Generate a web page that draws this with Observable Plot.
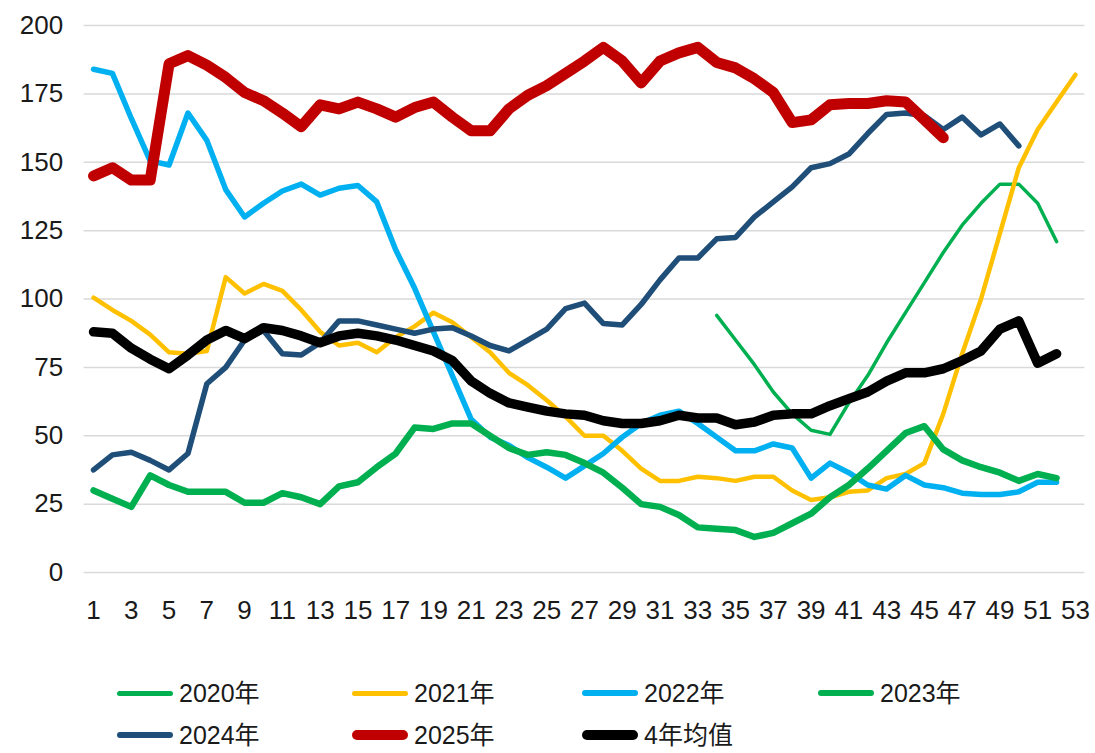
<!DOCTYPE html>
<html><head><meta charset="utf-8">
<script src="https://cdn.jsdelivr.net/npm/d3@7"></script>
<script src="https://cdn.jsdelivr.net/npm/@observablehq/plot@0.6"></script>
<style>
body{margin:0;background:#fff;font-family:"Liberation Sans",Arial,"Noto Sans CJK SC",sans-serif;}
#wrap{position:relative;width:1095px;height:753px;overflow:hidden;}
#chart{position:absolute;left:0;top:0;}
.leg{position:absolute;display:flex;align-items:center;font-size:25px;line-height:30px;color:#1a1a1a;height:30px;white-space:nowrap;}
.sw{width:56px;border-radius:6px;margin-right:6px;}
</style></head><body><div id="wrap"><div id="chart"></div></div>
<script>
// ---- data ----
const xTicks = [1,3,5,7,9,11,13,15,17,19,21,23,25,27,29,31,33,35,37,39,41,43,45,47,49,51,53];
const yTicks = [0,25,50,75,100,125,150,175,200];

const seriesNames = ["2020年","2021年","2022年","2023年","2024年","2025年","4年均值"];
const seriesColors = ["#00B050","#FFC000","#00B0F0","#00B050","#1F4E79","#C00000","#000000"];
const seriesWidths = [3.5,4.5,5.5,6.5,5.5,11,9.5];
const seriesStartWeek = [34,1,1,1,1,1,1];

const v2020 = [94,85,76,66,58,52,50.5,62,72,84,95,106,117,127,135,142,142,135,121];
const v2021 = [100.5,96,92,87,80.5,80,81,108,102,105.5,103,96,88,83,84,80.5,86,90,95,91.5,86,80.5,73,68.5,63,57,50,50,44.5,38,33.5,33.5,35,34.5,33.5,35,35,30,26.5,27.5,29.5,30,34.5,36,40,58,80,100,124,148,162,172,182];
const v2022 = [184,182.5,166,150.5,149,168,158,140,130,135,139.5,142,138,140.5,141.5,135.5,118,104,88,72,56,49.5,46.5,42,38.5,34.5,39,43.5,49.5,54.5,57.5,59,54.5,49.5,44.5,44.5,47,45.5,34.5,40,36.5,32,30.5,35.5,32,31,29,28.5,28.5,29.5,33,33];
const v2023 = [30,27,24,35.5,32,29.5,29.5,29.5,25.5,25.5,29,27.5,25,31.5,33,38.5,43.5,53,52.5,54.5,54.5,50,45.5,43,44,43,40,36.5,31,25,24,21,16.5,16,15.5,13,14.5,18,21.5,27.5,32,38,44.5,51,53.5,45,41,38.5,36.5,33.5,36,34.5];
const v2024 = [37.5,43,44,41,37.5,43.5,69,75,85,88.5,80,79.5,84,92,92,90.5,89,87.5,89,89.5,86.5,83,81,85,89,96.5,98.5,91,90.5,98,107,115,115,122,122.5,130,135.5,141,148,149.5,153,160.5,167.5,168,167,162,166.5,160,164,156];
const v2025 = [145,148,143.5,143.5,186,189,185.5,181,175.5,172.5,168,163,171,169.5,172,169.5,166.5,170,172,166.5,161.5,161.5,169.5,174.5,178,182.5,187,192,187,179,187,190,192,186.5,184.5,180.5,175.5,164.5,165.5,171,171.5,171.5,172.5,172,165.5,159];
const vAvg = [88,87.5,82,78,74.5,79.5,85,88.5,85.5,89.5,88.5,86.5,84,86.5,87.5,86.5,85,83,81,77.5,70,65.5,62,60.5,59,58,57.5,55.5,54.5,54.5,55.5,57.5,56.5,56.5,54,55,57.5,58,58,61,63.5,66,70,73,73,74.5,77.5,81,89,92,76.5,80];

const seriesValues = [v2020,v2021,v2022,v2023,v2024,v2025,vAvg];

// ---- chart ----
const marks = [Plot.gridY(yTicks,{stroke:"#d9d9d9",strokeOpacity:1,strokeWidth:1.5})];
seriesValues.forEach((vals,i)=>{
  const data = vals.map((v,j)=>({week: seriesStartWeek[i]+j, value: v, series: seriesNames[i]}));
  marks.push(Plot.line(data,{x:"week",y:"value",stroke:seriesColors[i],strokeWidth:seriesWidths[i],strokeLinejoin:"round",strokeLinecap:"round"}));
});
marks.push(Plot.axisX({ticks:xTicks,tickSize:0,tickPadding:28,fontSize:26,tickFormat:d=>String(d),label:null}));
marks.push(Plot.axisY({ticks:yTicks,tickSize:0,tickPadding:21,fontSize:26,label:null}));

const svg = Plot.plot({
  width:1095,height:640,
  marginLeft:83.6,marginRight:10.6,marginTop:25,marginBottom:68,
  style:{fontFamily:'"Liberation Sans",Arial,sans-serif',color:"#1a1a1a",background:"#fff"},
  x:{type:"linear",domain:[0.5,53.5]},
  y:{domain:[0,200]},
  marks
});
document.getElementById("chart").appendChild(svg);

// ---- legend ----
const legendLeft = [117,352,582,818];
const legendRowCenter = [693,735];
const wrap = document.getElementById("wrap");
seriesNames.forEach((name,i)=>{
  const col = i%4, row = Math.floor(i/4);
  const item = document.createElement("div");
  item.className = "leg";
  item.style.left = legendLeft[col]+"px";
  item.style.top = (legendRowCenter[row]-15)+"px";
  const sw = document.createElement("div");
  sw.className = "sw";
  sw.style.background = seriesColors[i];
  sw.style.height = Math.max(5,Math.min(10,seriesWidths[i]))+"px";
  const t = document.createElement("span");
  t.textContent = name;
  item.appendChild(sw); item.appendChild(t);
  wrap.appendChild(item);
});
</script></body></html>
